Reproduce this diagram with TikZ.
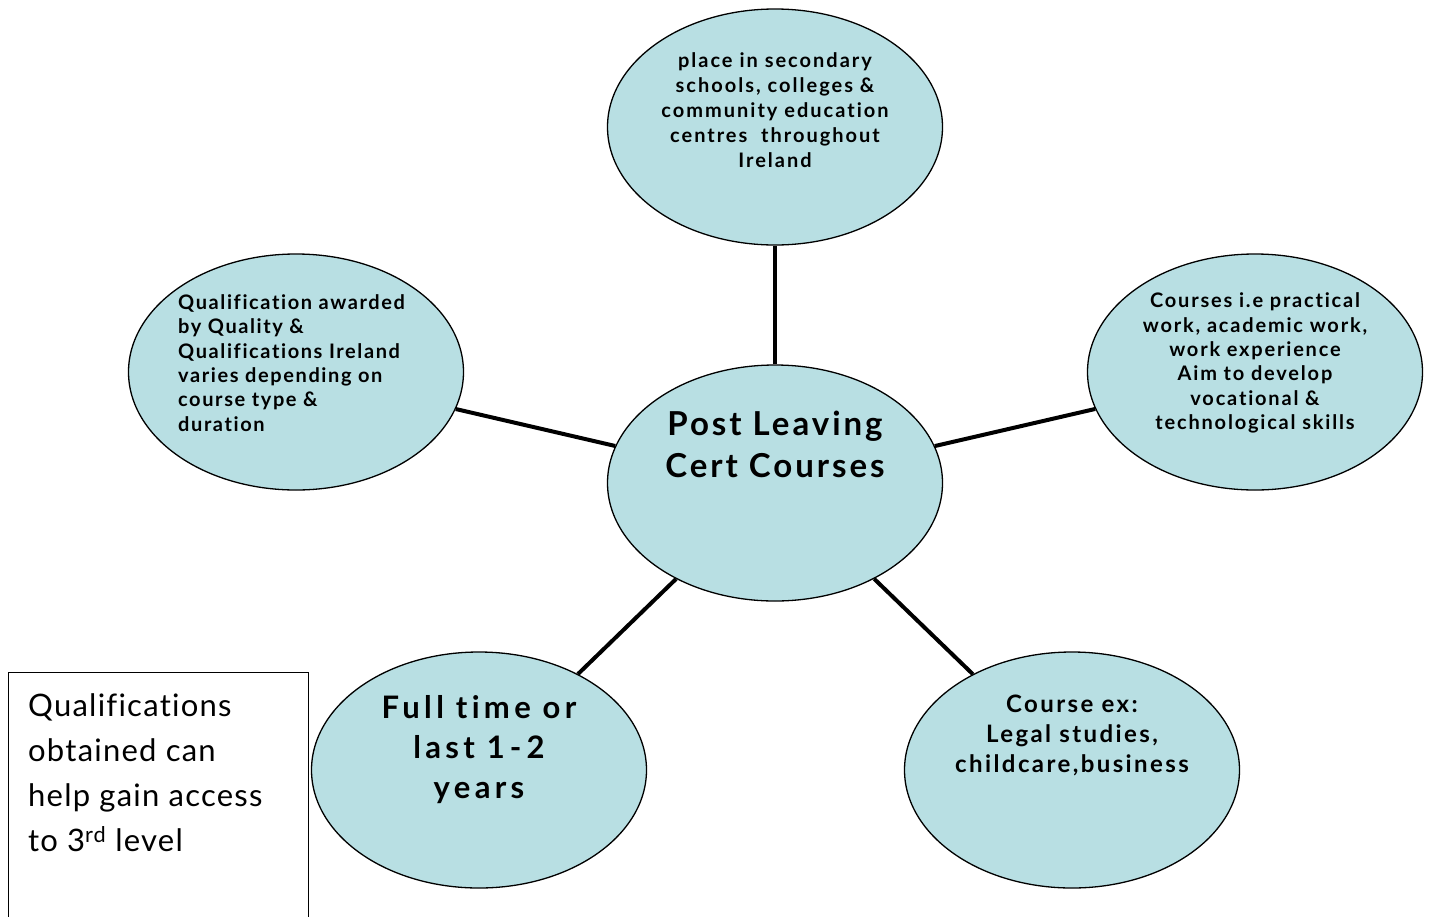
\documentclass[tikz,border=0pt]{standalone}
\usepackage{fontspec}
\setmainfont[Ligatures={NoCommon,NoContextual}]{Lato}
\usetikzlibrary{shapes.geometric}
\definecolor{bubble}{HTML}{B8DFE3}
\tikzset{
  bubble/.style={ellipse, draw=black, line width=1.3pt, fill=bubble, minimum width=335pt, minimum height=236pt, inner sep=0pt},
  link/.style={line width=4pt, draw=black},
  btext/.style={align=center, font=\bfseries, inner sep=0pt},
}
\begin{document}
\begin{tikzpicture}[x=1pt,y=-1pt]
\useasboundingbox (0,0) rectangle (1429,916);
\fill[white] (0,0) rectangle (1429,916);
% bubbles
\node[bubble] (top) at (775,127) {};
\node[bubble] (mid) at (775,483) {};
\node[bubble] (left) at (296,372) {};
\node[bubble] (right) at (1255,372) {};
\node[bubble] (bl) at (479,770) {};
\node[bubble] (br) at (1072,770) {};
% connectors
\draw[link] (mid) -- (top);
\draw[link] (mid) -- (left);
\draw[link] (mid) -- (right);
\draw[link] (mid) -- (bl);
\draw[link] (mid) -- (br);
% texts
\node[btext, font=\bfseries\fontsize{20}{25}\selectfont\addfontfeature{LetterSpace=10}] (ttop) at (775,110)
  {place in secondary\\schools, colleges \&\\community education\\centres\ \ throughout\\Ireland};
\node[btext, font=\bfseries\fontsize{33}{42}\selectfont\addfontfeature{LetterSpace=9}] (tmid) at (775,444)
  {Post Leaving\\Cert Courses};
\node[btext, align=left, anchor=west, font=\bfseries\fontsize{20}{24.4}\selectfont\addfontfeature{LetterSpace=8}] (tleft) at (178,363)
  {Qualification awarded\\by Quality \&\\Qualifications Ireland\\varies depending on\\course type \&\\duration};
\node[btext, font=\bfseries\fontsize{20}{24.4}\selectfont\addfontfeature{LetterSpace=9}] (tright) at (1255,363)
  {Courses i.e practical\\work, academic work,\\work experience\\Aim to develop\\vocational \&\\technological skills};
\node[btext, font=\bfseries\fontsize{31}{40}\selectfont\addfontfeature{LetterSpace=14}] (tbl) at (479,750)
  {Full time or\\last 1\,-\,2\\years};
\node[btext, font=\bfseries\fontsize{24}{30}\selectfont\addfontfeature{LetterSpace=10}] (tbr) at (1072,735)
  {Course ex:\\Legal studies,\\childcare,business};
% note box
\node[draw=black, line width=1.3pt, fill=white, anchor=north west, minimum width=300pt, minimum height=252pt, inner sep=0pt] (note) at (8,672) {};
\node[align=left, anchor=west, inner sep=0pt, font=\fontsize{31}{45}\selectfont\addfontfeature{LetterSpace=4}] (tnote) at (28,773)
  {Qualifications\\obtained can\\help gain access\\to 3\textsuperscript{rd} level};
\end{tikzpicture}
\end{document}
